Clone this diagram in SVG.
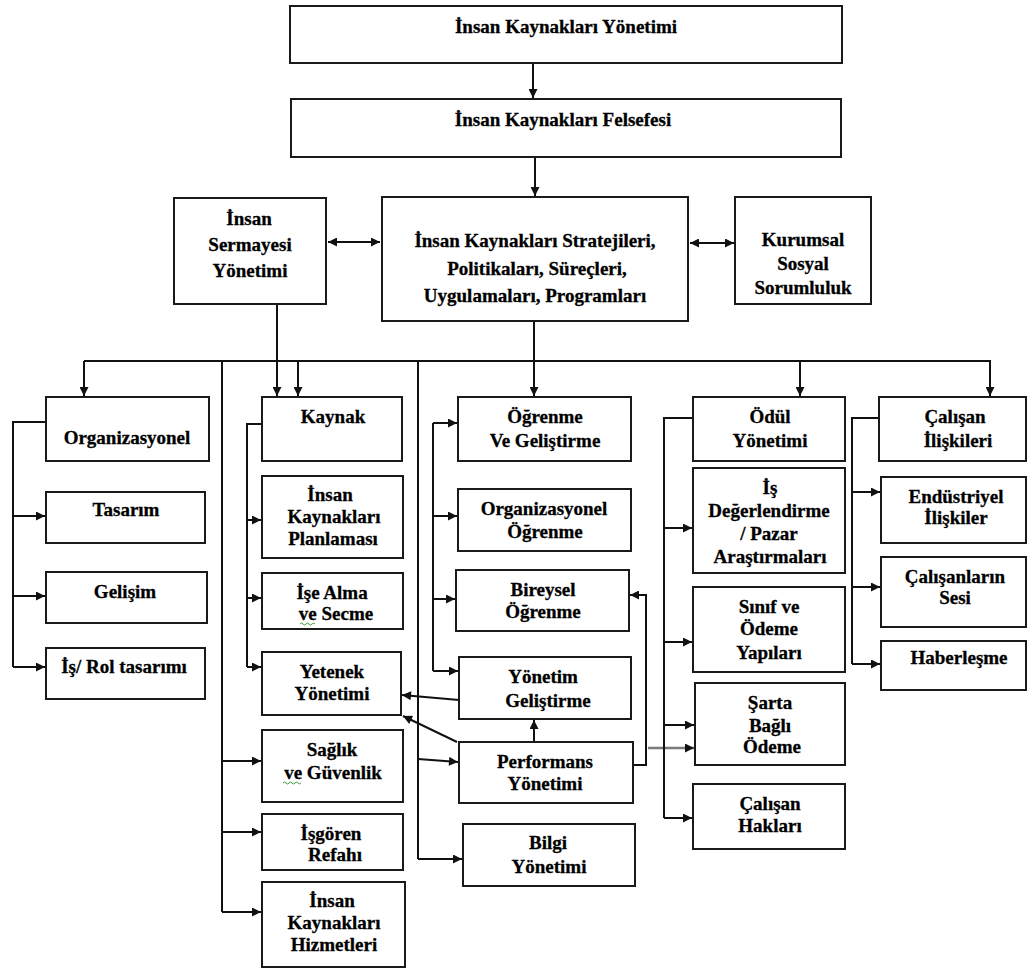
<svg xmlns="http://www.w3.org/2000/svg" width="1027" height="969" viewBox="0 0 1027 969">
  <style>
    .box { fill: #fff; stroke: #1a1a1a; stroke-width: 2; }
    .t { font-family: "Liberation Serif", "DejaVu Serif", serif; font-weight: bold; font-size: 19px; text-anchor: middle; fill: #000; stroke: #000; stroke-width: 0.3; }
    .ln { fill: none; stroke: #111; stroke-width: 2; }
    .arr { fill: none; stroke: #111; stroke-width: 2; marker-end: url(#ah); }
    .dbl { fill: none; stroke: #111; stroke-width: 2; marker-start: url(#ah); marker-end: url(#ah); }
    .gray { fill: none; stroke: #7a7a7a; stroke-width: 2.5; marker-end: url(#ahg); }
    .squig { fill: none; stroke: #3c9a3c; stroke-width: 1; }
  </style>
  <defs>
    <marker id="ah" viewBox="0 0 10 10" refX="10" refY="5" markerWidth="10" markerHeight="9" orient="auto-start-reverse" markerUnits="userSpaceOnUse">
      <path d="M0,0 L10,5 L0,10 z" fill="#111"/>
    </marker>
    <marker id="ahg" viewBox="0 0 10 10" refX="10" refY="5" markerWidth="10" markerHeight="9" orient="auto" markerUnits="userSpaceOnUse">
      <path d="M0,0 L10,5 L0,10 z" fill="#111"/>
    </marker>
  </defs>
  <rect width="1027" height="969" fill="#fff"/>

  <!-- connectors -->
  <g id="connectors">
    <line class="arr" x1="533" y1="63" x2="533" y2="98"/>
    <line class="arr" x1="535" y1="157" x2="535" y2="196"/>
    <line class="dbl" x1="328" y1="242" x2="380" y2="242"/>
    <line class="dbl" x1="690" y1="243" x2="734" y2="243"/>

    <!-- distribution bus -->
    <line class="ln" x1="84" y1="361" x2="991" y2="361"/>
    <line class="arr" x1="84" y1="361" x2="84" y2="396"/>
    <line class="arr" x1="277" y1="304" x2="277" y2="396"/>
    <line class="arr" x1="298" y1="361" x2="298" y2="396"/>
    <line class="arr" x1="534" y1="322" x2="534" y2="396"/>
    <line class="arr" x1="800" y1="361" x2="800" y2="396"/>
    <line class="arr" x1="990" y1="361" x2="990" y2="396"/>

    <!-- organisation branch -->
    <path class="ln" d="M46,422 H13 V667"/>
    <line class="arr" x1="13" y1="516" x2="45" y2="516"/>
    <line class="arr" x1="13" y1="596" x2="45" y2="596"/>
    <line class="arr" x1="13" y1="667" x2="45" y2="667"/>

    <!-- resourcing branch -->
    <path class="ln" d="M262,424 H247 V667"/>
    <line class="arr" x1="247" y1="520" x2="261" y2="520"/>
    <line class="arr" x1="247" y1="598" x2="261" y2="598"/>
    <line class="arr" x1="247" y1="667" x2="261" y2="667"/>

    <!-- wellbeing / services trunk -->
    <line class="ln" x1="222" y1="361" x2="222" y2="912"/>
    <line class="arr" x1="222" y1="761" x2="261" y2="761"/>
    <line class="arr" x1="222" y1="832" x2="261" y2="832"/>
    <line class="arr" x1="222" y1="912" x2="261" y2="912"/>

    <!-- learning branch -->
    <line class="ln" x1="433" y1="423" x2="433" y2="671"/>
    <line class="arr" x1="433" y1="423" x2="457" y2="423"/>
    <line class="arr" x1="433" y1="516" x2="457" y2="516"/>
    <line class="arr" x1="433" y1="599" x2="455" y2="599"/>
    <line class="arr" x1="433" y1="671" x2="458" y2="671"/>

    <!-- performance / knowledge trunk -->
    <line class="ln" x1="418" y1="361" x2="418" y2="859"/>
    <line class="arr" x1="418" y1="759" x2="458" y2="762"/>
    <line class="arr" x1="418" y1="859" x2="462" y2="859"/>

    <!-- cross links -->
    <line class="arr" x1="459" y1="700" x2="402" y2="695"/>
    <line class="arr" x1="457" y1="742" x2="403" y2="716"/>
    <line class="arr" x1="534" y1="742" x2="534" y2="720"/>
    <path class="arr" d="M633,765 H646 V595 H630"/>
    <line class="gray" x1="648" y1="748" x2="694" y2="748"/>

    <!-- reward branch -->
    <path class="ln" d="M693,418 H664 V818"/>
    <line class="arr" x1="664" y1="528" x2="692" y2="528"/>
    <line class="arr" x1="664" y1="642" x2="692" y2="642"/>
    <line class="arr" x1="664" y1="725" x2="694" y2="725"/>
    <line class="arr" x1="664" y1="818" x2="692" y2="818"/>

    <!-- employee relations branch -->
    <path class="ln" d="M879,418 H852 V664"/>
    <line class="arr" x1="852" y1="492" x2="880" y2="492"/>
    <line class="arr" x1="852" y1="587" x2="880" y2="587"/>
    <line class="arr" x1="852" y1="664" x2="880" y2="664"/>
  </g>

  <!-- top chain -->
  <g id="ik-yonetimi">
    <rect class="box" x="290" y="6" width="552" height="57"/>
    <text class="t" x="566" y="33">İnsan Kaynakları Yönetimi</text>
  </g>
  <g id="ik-felsefesi">
    <rect class="box" x="291" y="99" width="550" height="58"/>
    <text class="t" x="563" y="126">İnsan Kaynakları Felsefesi</text>
  </g>
  <g id="insan-sermayesi">
    <rect class="box" x="174" y="198" width="152" height="106"/>
    <text class="t" x="249" y="225">İnsan</text>
    <text class="t" x="250" y="251">Sermayesi</text>
    <text class="t" x="250" y="277">Yönetimi</text>
  </g>
  <g id="ik-stratejileri">
    <rect class="box" x="382" y="197" width="306" height="124"/>
    <text class="t" x="535" y="247">İnsan Kaynakları Stratejileri,</text>
    <text class="t" x="537" y="275">Politikaları, Süreçleri,</text>
    <text class="t" x="535" y="302">Uygulamaları, Programları</text>
  </g>
  <g id="kurumsal-sosyal">
    <rect class="box" x="735" y="197" width="136" height="107"/>
    <text class="t" x="803" y="246">Kurumsal</text>
    <text class="t" x="803" y="270">Sosyal</text>
    <text class="t" x="803" y="294">Sorumluluk</text>
  </g>

  <!-- organisation column -->
  <g id="organizasyonel">
    <rect class="box" x="46" y="397" width="163" height="64"/>
    <text class="t" x="127" y="444">Organizasyonel</text>
  </g>
  <g id="tasarim">
    <rect class="box" x="46" y="492" width="159" height="51"/>
    <text class="t" x="126" y="516">Tasarım</text>
  </g>
  <g id="gelisim">
    <rect class="box" x="46" y="572" width="161" height="51"/>
    <text class="t" x="125" y="598">Gelişim</text>
  </g>
  <g id="is-rol">
    <rect class="box" x="46" y="648" width="159" height="51"/>
    <text class="t" x="124" y="673">İş/ Rol tasarımı</text>
  </g>

  <!-- resourcing column -->
  <g id="kaynak">
    <rect class="box" x="262" y="397" width="140" height="64"/>
    <text class="t" x="333" y="423">Kaynak</text>
  </g>
  <g id="ik-planlamasi">
    <rect class="box" x="262" y="476" width="141" height="82"/>
    <text class="t" x="330" y="501">İnsan</text>
    <text class="t" x="334" y="523">Kaynakları</text>
    <text class="t" x="333" y="545">Planlaması</text>
  </g>
  <g id="ise-alma">
    <rect class="box" x="262" y="573" width="141" height="56"/>
    <text class="t" x="332" y="599">İşe Alma</text>
    <text class="t" x="336" y="620">ve Secme</text>
    <path class="squig" d="M300,624 q1.5,-2 3,0 t3,0 t3,0 t3,0 t3,0"/>
  </g>
  <g id="yetenek">
    <rect class="box" x="262" y="652" width="139" height="63"/>
    <text class="t" x="332" y="678">Yetenek</text>
    <text class="t" x="332" y="700">Yönetimi</text>
  </g>
  <g id="saglik">
    <rect class="box" x="262" y="730" width="141" height="72"/>
    <text class="t" x="332" y="756">Sağlık</text>
    <text class="t" x="333" y="779">ve Güvenlik</text>
    <path class="squig" d="M283,783 q1.5,-2 3,0 t3,0 t3,0 t3,0 t3,0 t3,0"/>
  </g>
  <g id="isgoren">
    <rect class="box" x="262" y="814" width="141" height="56"/>
    <text class="t" x="331" y="840">İşgören</text>
    <text class="t" x="335" y="861">Refahı</text>
  </g>
  <g id="ik-hizmetleri">
    <rect class="box" x="262" y="882" width="143" height="85"/>
    <text class="t" x="332" y="907">İnsan</text>
    <text class="t" x="334" y="929">Kaynakları</text>
    <text class="t" x="334" y="951">Hizmetleri</text>
  </g>

  <!-- learning column -->
  <g id="ogrenme">
    <rect class="box" x="458" y="397" width="173" height="64"/>
    <text class="t" x="545" y="423">Öğrenme</text>
    <text class="t" x="545" y="447">Ve Geliştirme</text>
  </g>
  <g id="org-ogrenme">
    <rect class="box" x="458" y="489" width="173" height="62"/>
    <text class="t" x="544" y="515">Organizasyonel</text>
    <text class="t" x="545" y="538">Öğrenme</text>
  </g>
  <g id="bireysel">
    <rect class="box" x="456" y="570" width="173" height="61"/>
    <text class="t" x="543" y="596">Bireysel</text>
    <text class="t" x="543" y="618">Öğrenme</text>
  </g>
  <g id="yonetim-gelistirme">
    <rect class="box" x="459" y="657" width="172" height="62"/>
    <text class="t" x="543" y="683">Yönetim</text>
    <text class="t" x="548" y="707">Geliştirme</text>
  </g>
  <g id="performans">
    <rect class="box" x="459" y="742" width="174" height="61"/>
    <text class="t" x="545" y="768">Performans</text>
    <text class="t" x="545" y="790">Yönetimi</text>
  </g>
  <g id="bilgi">
    <rect class="box" x="463" y="824" width="172" height="62"/>
    <text class="t" x="548" y="849">Bilgi</text>
    <text class="t" x="549" y="873">Yönetimi</text>
  </g>

  <!-- reward column -->
  <g id="odul">
    <rect class="box" x="693" y="397" width="152" height="64"/>
    <text class="t" x="770" y="423">Ödül</text>
    <text class="t" x="770" y="447">Yönetimi</text>
  </g>
  <g id="is-degerlendirme">
    <rect class="box" x="693" y="468" width="152" height="105"/>
    <text class="t" x="770" y="494">İş</text>
    <text class="t" x="769" y="517">Değerlendirme</text>
    <text class="t" x="769" y="540">/ Pazar</text>
    <text class="t" x="770" y="563">Araştırmaları</text>
  </g>
  <g id="sinif-odeme">
    <rect class="box" x="693" y="587" width="152" height="85"/>
    <text class="t" x="769" y="613">Sınıf ve</text>
    <text class="t" x="769" y="635">Ödeme</text>
    <text class="t" x="769" y="659">Yapıları</text>
  </g>
  <g id="sarta-bagli">
    <rect class="box" x="695" y="683" width="150" height="82"/>
    <text class="t" x="770" y="709">Şarta</text>
    <text class="t" x="770" y="732">Bağlı</text>
    <text class="t" x="772" y="753">Ödeme</text>
  </g>
  <g id="calisan-haklari">
    <rect class="box" x="693" y="784" width="152" height="65"/>
    <text class="t" x="770" y="810">Çalışan</text>
    <text class="t" x="770" y="832">Hakları</text>
  </g>

  <!-- employee relations column -->
  <g id="calisan-iliskileri">
    <rect class="box" x="879" y="397" width="147" height="64"/>
    <text class="t" x="955" y="423">Çalışan</text>
    <text class="t" x="958" y="447">İlişkileri</text>
  </g>
  <g id="endustriyel">
    <rect class="box" x="881" y="477" width="145" height="66"/>
    <text class="t" x="956" y="503">Endüstriyel</text>
    <text class="t" x="956" y="524">İlişkiler</text>
  </g>
  <g id="calisanlarin-sesi">
    <rect class="box" x="881" y="557" width="145" height="70"/>
    <text class="t" x="955" y="583">Çalışanların</text>
    <text class="t" x="955" y="604">Sesi</text>
  </g>
  <g id="haberlesme">
    <rect class="box" x="881" y="641" width="145" height="49"/>
    <text class="t" x="959" y="664">Haberleşme</text>
  </g>
</svg>
